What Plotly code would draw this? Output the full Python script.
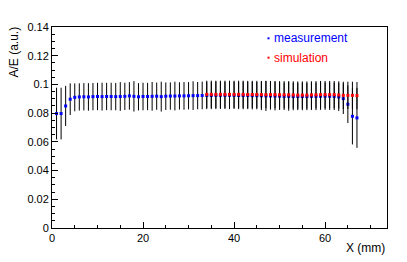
import plotly.graph_objects as go

# ---- data ----
meas_x = list(range(1, 68))
meas_y = [0.0797, 0.0797, 0.0850, 0.0897, 0.0910, 0.0913, 0.0914, 0.0913, 0.0915, 0.0916,
          0.0915, 0.0916, 0.0916, 0.0915, 0.0916, 0.0917, 0.0920, 0.0917, 0.0914, 0.0916,
          0.0916, 0.0917, 0.0918, 0.0915, 0.0918, 0.0919, 0.0919, 0.0920, 0.0920, 0.0921,
          0.0922, 0.0922, 0.0923, 0.0923, 0.0923, 0.0924, 0.0924, 0.0924, 0.0924, 0.0924,
          0.0923, 0.0923, 0.0923, 0.0922, 0.0922, 0.0921, 0.0920, 0.0920, 0.0919, 0.0918,
          0.0917, 0.0917, 0.0916, 0.0916, 0.0916, 0.0916, 0.0917, 0.0917, 0.0918, 0.0918,
          0.0918, 0.0917, 0.0913, 0.0901, 0.0862, 0.0778, 0.0767]
meas_err = [0.0180, 0.0180, 0.0140, 0.0110, 0.0097, 0.0095, 0.0095, 0.0096, 0.0095, 0.0095,
            0.0097, 0.0095, 0.0096, 0.0095, 0.0100, 0.0095, 0.0096, 0.0106, 0.0095, 0.0096,
            0.0095, 0.0100, 0.0095, 0.0104, 0.0096, 0.0095, 0.0100, 0.0095, 0.0096, 0.0095,
            0.0100, 0.0095, 0.0096, 0.0095, 0.0095, 0.0096, 0.0095, 0.0095, 0.0096, 0.0095,
            0.0095, 0.0096, 0.0095, 0.0096, 0.0095, 0.0100, 0.0105, 0.0095, 0.0100, 0.0096,
            0.0095, 0.0100, 0.0096, 0.0095, 0.0096, 0.0095, 0.0095, 0.0096, 0.0095, 0.0095,
            0.0096, 0.0095, 0.0098, 0.0107, 0.0131, 0.0196, 0.0209]

sim_x = list(range(34, 68))
sim_y = [0.0931, 0.0931, 0.0931, 0.0931, 0.0931, 0.0931, 0.0931, 0.0931, 0.0931, 0.0930,
         0.0930, 0.0930, 0.0929, 0.0929, 0.0929, 0.0929, 0.0928, 0.0928, 0.0928, 0.0927,
         0.0926, 0.0926, 0.0926, 0.0927, 0.0928, 0.0929, 0.0929, 0.0929, 0.0929, 0.0927,
         0.0924, 0.0924, 0.0924, 0.0922]
sim_err = [0.0095] * len(sim_x)

x_range = [0, 73.6]
y_range = [0, 0.14]

FONT = "Liberation Sans, Arial, Helvetica, sans-serif"
OFF = 8  # page body margin in the browser
W, H = 407 - OFF, 262 - OFF
# target plot area in window pixels: left 52, right 387, top 27, bottom 228
ML, MT = 52 - OFF, 27 - OFF
MR = W - (387 - OFF)
MB = H - (228 - OFF)

fig = go.Figure()
fig.add_trace(go.Scatter(
    x=meas_x, y=meas_y, mode="markers", name="measurement",
    marker=dict(symbol="square", size=3, color="#0000ff", line=dict(width=0)),
    error_y=dict(type="data", array=meas_err, visible=True, color="black",
                 thickness=1, width=0),
))
fig.add_trace(go.Scatter(
    x=sim_x, y=sim_y, mode="markers", name="simulation",
    marker=dict(symbol="square", size=3, color="#ff0000", line=dict(width=0)),
    error_y=dict(type="data", array=sim_err, visible=True, color="black",
                 thickness=1, width=0),
))

pw = W - ML - MR
ph = H - MT - MB


def px(xp):
    # window pixel x -> paper coordinate
    return (xp - OFF - ML) / pw


def py(yp):
    # window pixel y -> paper coordinate
    return (H - MB - (yp - OFF)) / ph


axis_common = dict(
    showline=True, linecolor="black", linewidth=1, mirror=True,
    ticks="inside", ticklen=6, tickcolor="black", tickwidth=1,
    showgrid=False, zeroline=False, automargin=False,
    tickfont=dict(family=FONT, size=11, color="black"),
)

fig.update_xaxes(range=x_range, dtick=20, tick0=0,
                 minor=dict(dtick=5, ticklen=3, ticks="inside", tickcolor="black"),
                 **axis_common)
fig.update_yaxes(range=y_range, dtick=0.02, tick0=0,
                 minor=dict(dtick=0.005, ticklen=3, ticks="inside", tickcolor="black"),
                 **axis_common)

annotations = [
    dict(text="A/E (a.u.)", xref="paper", yref="paper", x=px(13), y=py(25),
         xanchor="center", yanchor="top", textangle=-90, showarrow=False,
         font=dict(family=FONT, size=12, color="black")),
    dict(text="X (mm)", xref="paper", yref="paper", x=px(387), y=py(248),
         xanchor="right", yanchor="middle", showarrow=False,
         font=dict(family=FONT, size=12, color="black")),
    dict(text="measurement", xref="paper", yref="paper", x=px(272), y=py(38),
         xanchor="left", yanchor="middle", showarrow=False,
         font=dict(family=FONT, size=12, color="#0000ff")),
    dict(text="simulation", xref="paper", yref="paper", x=px(272), y=py(57.5),
         xanchor="left", yanchor="middle", showarrow=False,
         font=dict(family=FONT, size=12, color="#ff0000")),
]

shapes = [
    dict(type="rect", xref="paper", yref="paper", x0=px(267.5), x1=px(269.5),
         y0=py(39.3), y1=py(37.3), fillcolor="#0000ff", line=dict(width=0)),
    dict(type="rect", xref="paper", yref="paper", x0=px(267.5), x1=px(269.5),
         y0=py(58.7), y1=py(56.7), fillcolor="#ff0000", line=dict(width=0)),
]

fig.update_layout(
    width=W, height=H,
    margin=dict(l=ML, r=MR, t=MT, b=MB, pad=0),
    paper_bgcolor="white", plot_bgcolor="white",
    showlegend=False,
    annotations=annotations, shapes=shapes,
    font=dict(family=FONT, size=11, color="black"),
)

fig.write_html("out.html")
